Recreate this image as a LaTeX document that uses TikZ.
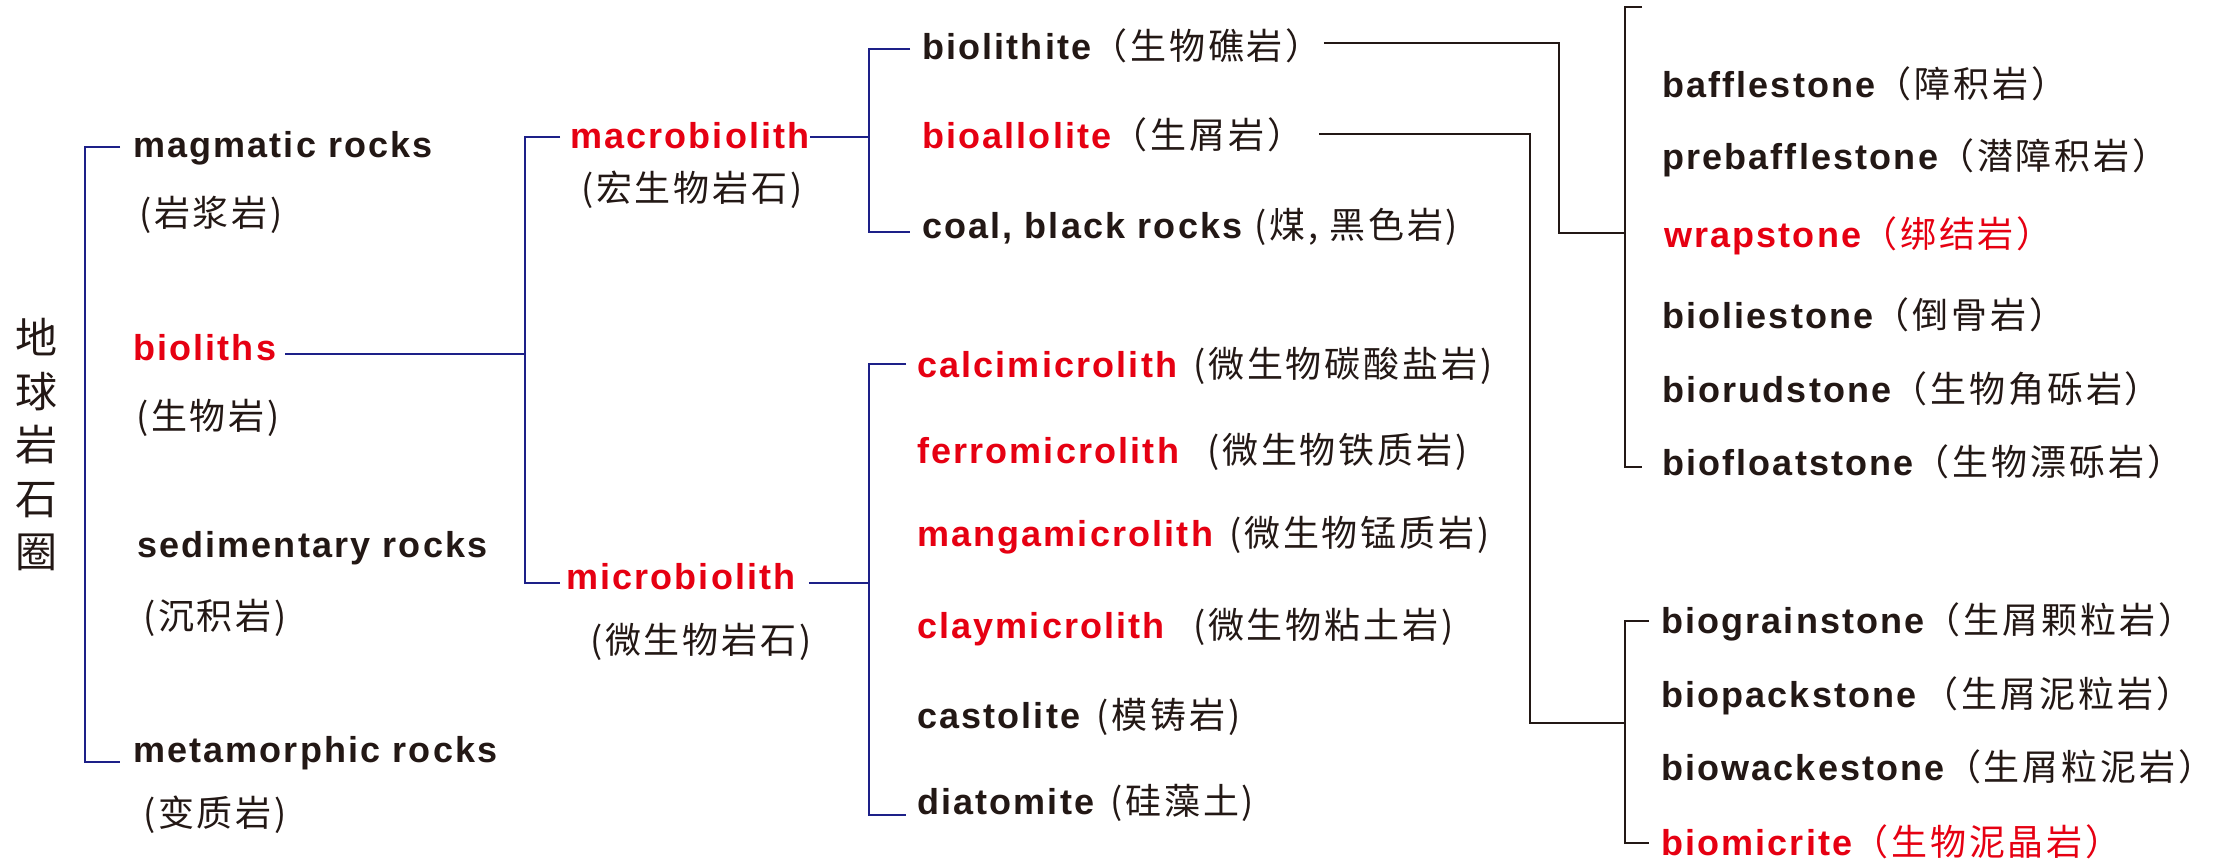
\documentclass[tikz,border=0pt]{standalone}
\usepackage{fontspec}
\setmainfont{Liberation Sans}
\newfontfamily\enf{Liberation Sans}[LetterSpace=6]
\newfontfamily\cjk{Noto Sans CJK SC}[LetterSpace=8]
\newfontfamily\cjktitle{Noto Sans CJK SC}
\usetikzlibrary{calc}
\definecolor{ink}{HTML}{231815}
\definecolor{myred}{HTML}{E60012}
\definecolor{myblue}{HTML}{1D2088}
\newcommand\zhs[1]{{\cjk\mdseries #1}}
\begin{document}
\begin{tikzpicture}[x=0.5pt,y=-0.5pt,
  lbl/.style={anchor=base west,inner sep=0pt,outer sep=0pt,text=ink,font=\enf\bfseries\fontsize{18pt}{20pt}\selectfont},
  zh/.style={anchor=base west,inner sep=0pt,outer sep=0pt,text=ink,font=\cjk\fontsize{18pt}{20pt}\selectfont},
  hot/.style={text=myred},
  bl/.style={draw=myblue,line width=1pt},
  bk/.style={draw=ink,line width=1.1pt},
]
\fill[white] (0,0) rectangle (2237,862);
\useasboundingbox (0,0) rectangle (2237,862);

% title
\node[inner sep=0pt,text=ink,align=center,font=\cjktitle\fontsize{21pt}{26.75pt}\selectfont] (title) at (37,445) {地\\球\\岩\\石\\圈};

% level 1
\node[lbl] (mag) at (133,157) {magmatic rocks};
\node[zh] (magc) at (139,226) {(岩浆岩)};
\node[lbl,hot] (bio) at (133,360) {bioliths};
\node[zh] (bioc) at (136,429) {(生物岩)};
\node[lbl] (sed) at (137,557) {sedimentary rocks};
\node[zh] (sedc) at (143,629) {(沉积岩)};
\node[lbl] (met) at (133,762) {metamorphic rocks};
\node[zh] (metc) at (143,826) {(变质岩)};

% level 2
\node[lbl,hot] (macro) at (570,148) {macrobiolith};
\node[zh] (macroc) at (581,201) {(宏生物岩石)};
\node[lbl,hot] (micro) at (566,589) {microbiolith};
\node[zh] (microc) at (590,653) {(微生物岩石)};

% level 3 macro
\node[lbl] (blt) at (922,59) {biolithite\zhs{（生物礁岩）}};
\node[lbl] (bal) at (922,148) {\textcolor{myred}{bioallolite}\zhs{（生屑岩）}};
\node[lbl] (coal) at (922,238) {coal, black rocks\hspace{6pt}\zhs{(煤, 黑色岩)}};

% level 3 micro
\node[lbl] (calc) at (917,377) {\textcolor{myred}{calcimicrolith}\hspace{8pt}\zhs{(微生物碳酸盐岩)}};
\node[lbl] (ferro) at (917,463) {\textcolor{myred}{ferromicrolith}\hspace{14pt}\zhs{(微生物铁质岩)}};
\node[lbl] (manga) at (917,546) {\textcolor{myred}{mangamicrolith}\hspace{8pt}\zhs{(微生物锰质岩)}};
\node[lbl] (clay) at (917,638) {\textcolor{myred}{claymicrolith}\hspace{14pt}\zhs{(微生物粘土岩)}};
\node[lbl] (cast) at (917,728) {castolite\hspace{8pt}\zhs{(模铸岩)}};
\node[lbl] (diat) at (917,814) {diatomite\hspace{8pt}\zhs{(硅藻土)}};

% level 4
\node[lbl] (baf) at (1662,97) {bafflestone\zhs{（障积岩）}};
\node[lbl] (preb) at (1662,169) {prebafflestone\zhs{（潜障积岩）}};
\node[lbl,hot] (wrap) at (1664,247) {wrapstone\zhs{（绑结岩）}};
\node[lbl] (bliest) at (1662,328) {bioliestone\zhs{（倒骨岩）}};
\node[lbl] (brud) at (1662,402) {biorudstone\zhs{（生物角砾岩）}};
\node[lbl] (bfloat) at (1662,475) {biofloatstone\zhs{（生物漂砾岩）}};
\node[lbl] (bgrain) at (1661,633) {biograinstone\zhs{（生屑颗粒岩）}};
\node[lbl] (bpack) at (1661,707) {biopackstone\hspace{3pt}\zhs{（生屑泥粒岩）}};
\node[lbl] (bwack) at (1661,780) {biowackestone\zhs{（生屑粒泥岩）}};
\node[lbl,hot] (bmic) at (1661,855) {biomicrite\zhs{（生物泥晶岩）}};

% ---- blue connectors
\coordinate (a1) at ($(mag.base west)+(-13,-10)$);
\coordinate (a2) at ($(met.base west)+(-13,0)$);
\draw[bl] (a1) -- ++(-35,0) |- (a2);

\coordinate (b1) at ($(bio.base east)+(9,-6)$);
\coordinate (j1) at (525,354);
\draw[bl] (b1) -- (j1);
\coordinate (c1) at ($(macro.base west)+(-10,-11)$);
\coordinate (c2) at ($(micro.base west)+(-6,-6)$);
\draw[bl] (c1) -| (j1) |- (c2);

\coordinate (m1) at ($(macro.base east)+(0,-11)$);
\coordinate (j2) at (869,137);
\draw[bl] (m1) -- (j2);
\coordinate (d1) at ($(blt.base west)+(-12,-10)$);
\coordinate (d2) at ($(coal.base west)+(-12,-6)$);
\draw[bl] (d1) -| (j2) |- (d2);

\coordinate (n1) at ($(micro.base east)+(13,-6)$);
\coordinate (j3) at (869,583);
\draw[bl] (n1) -- (j3);
\coordinate (e1) at ($(calc.base west)+(-11,-13)$);
\coordinate (e2) at ($(diat.base west)+(-11,1)$);
\draw[bl] (e1) -| (j3) |- (e2);

% ---- black connectors
\coordinate (j4) at (1625,233);
\coordinate (j5) at (1625,723);
\coordinate (f1) at ($(blt.base east)+(2,-16)$);
\draw[bk] (f1) -| ($(j4)+(-66,0)$) -- (j4);
\coordinate (g1) at ($(bal.base east)+(16,-14)$);
\draw[bk] (g1) -| ($(j5)+(-95,0)$) -- (j5);

\coordinate (h0) at (1642,7);
\coordinate (h1) at ($(bfloat.base west)+(-20,-8)$);
\draw[bk] (h0) -| (j4) |- (h1);
\coordinate (k1) at ($(bgrain.base west)+(-12,-12)$);
\coordinate (k2) at ($(bmic.base west)+(-12,-12)$);
\draw[bk] (k1) -| (j5) |- (k2);
\end{tikzpicture}
\end{document}
